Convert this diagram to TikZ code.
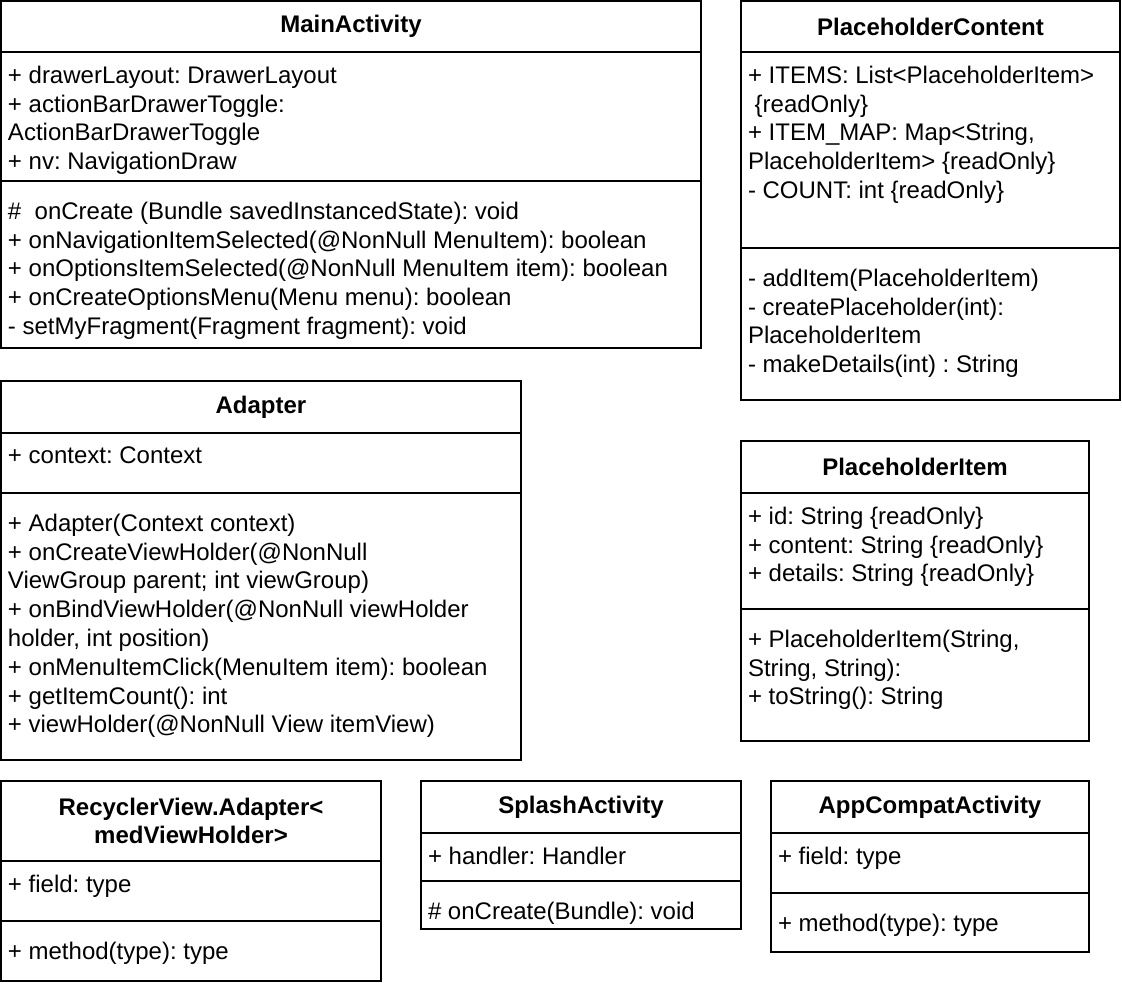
\documentclass[tikz,border=0pt]{standalone}
\usepackage{fontspec}
\setmainfont{Liberation Sans}
\usepackage{tikz}
\frenchspacing

\begin{document}
\begin{tikzpicture}[x=1pt,y=-1pt,line width=2pt]
        %
        % `classname' is the top box that holds the name of a class.
        % `compart' is an empty box for the fields or the methods.
        % `fields' and `methods' set the text inside a compartment.
        \tikzstyle{classname} = [draw,anchor=north west,inner sep=0pt,outer sep=0pt,align=center,font=\fontsize{24}{28.8}\selectfont\bfseries]
        \tikzstyle{compart} = [draw,anchor=north west,inner sep=0pt,outer sep=0pt]
        \tikzstyle{fields} = [anchor=north west,align=left,inner xsep=6pt,inner ysep=13pt,font=\fontsize{24}{28.8}\selectfont]
        \tikzstyle{methods} = [fields,inner ysep=20pt]
        %
        \useasboundingbox (0,0) rectangle (1122,992);
        %
        % MainActivity
        \node[classname,minimum width=700pt,minimum height=51pt] (main) at (1,1) {MainActivity};
        \node[compart,minimum width=700pt,minimum height=129pt] (main-f) at (main.south west) {};
        \node[compart,minimum width=700pt,minimum height=167pt] (main-m) at (main-f.south west) {};
        \node[fields] (main-ft) at (main-f.north west) {+ drawerLayout: DrawerLayout\\
                + actionBarDrawerToggle:\\ActionBarDrawerToggle\\+ nv: NavigationDraw};
        \node[methods] (main-mt) at (main-m.north west) {\#\ \ onCreate (Bundle savedInstancedState): void\\
                + onNavigationItemSelected(@NonNull MenuItem): boolean\\
                + onOptionsItemSelected(@NonNull MenuItem item): boolean\\
                + onCreateOptionsMenu(Menu menu): boolean\\
                - setMyFragment(Fragment fragment): void};
        %
        % PlaceholderContent
        \node[classname,minimum width=379pt,minimum height=51pt] (content) at (741,1) {PlaceholderContent};
        \node[compart,minimum width=379pt,minimum height=196pt] (content-f) at (content.south west) {};
        \node[compart,minimum width=379pt,minimum height=152pt] (content-m) at (content-f.south west) {};
        \node[fields] (content-ft) at (content-f.north west) {+ ITEMS: List<PlaceholderItem>\\
                \ \{readOnly\}\\+ ITEM\_MAP: Map<String,\\PlaceholderItem> \{readOnly\}\\
                - COUNT: int \{readOnly\}};
        \node[methods] (content-mt) at (content-m.north west) {- addItem(PlaceholderItem)\\
                - createPlaceholder(int):\\PlaceholderItem\\- makeDetails(int) : String};
        %
        % Adapter
        \node[classname,minimum width=520pt,minimum height=52pt] (adapter) at (1,381) {Adapter};
        \node[compart,minimum width=520pt,minimum height=60pt] (adapter-f) at (adapter.south west) {};
        \node[compart,minimum width=520pt,minimum height=267pt] (adapter-m) at (adapter-f.south west) {};
        \node[fields] (adapter-ft) at (adapter-f.north west) {+ context: Context};
        \node[methods] (adapter-mt) at (adapter-m.north west) {+ Adapter(Context context)\\
                + onCreateViewHolder(@NonNull\\ViewGroup parent; int viewGroup)\\
                + onBindViewHolder(@NonNull viewHolder\\holder, int position)\\
                + onMenuItemClick(MenuItem item): boolean\\
                + getItemCount(): int\\
                + viewHolder(@NonNull View itemView)};
        %
        % PlaceholderItem
        \node[classname,minimum width=348pt,minimum height=52pt] (item) at (741,441) {PlaceholderItem};
        \node[compart,minimum width=348pt,minimum height=116pt] (item-f) at (item.south west) {};
        \node[compart,minimum width=348pt,minimum height=132pt] (item-m) at (item-f.south west) {};
        \node[fields] (item-ft) at (item-f.north west) {+ id: String \{readOnly\}\\
                + content: String \{readOnly\}\\+ details: String \{readOnly\}};
        \node[methods] (item-mt) at (item-m.north west) {+ PlaceholderItem(String,\\
                String, String):\\+ toString(): String};
        %
        % RecyclerView.Adapter
        \node[classname,minimum width=380pt,minimum height=80pt] (recycler) at (1,781) {RecyclerView.Adapter<\\medViewHolder>};
        \node[compart,minimum width=380pt,minimum height=60pt] (recycler-f) at (recycler.south west) {};
        \node[compart,minimum width=380pt,minimum height=60pt] (recycler-m) at (recycler-f.south west) {};
        \node[fields] (recycler-ft) at (recycler-f.north west) {+ field: type};
        \node[methods] (recycler-mt) at (recycler-m.north west) {+ method(type): type};
        %
        % SplashActivity
        \node[classname,minimum width=320pt,minimum height=52pt] (splash) at (421,781) {SplashActivity};
        \node[compart,minimum width=320pt,minimum height=48pt] (splash-f) at (splash.south west) {};
        \node[compart,minimum width=320pt,minimum height=48pt] (splash-m) at (splash-f.south west) {};
        \node[fields] (splash-ft) at (splash-f.north west) {+ handler: Handler};
        \node[methods] (splash-mt) at (splash-m.north west) {\# onCreate(Bundle): void};
        %
        % AppCompatActivity
        \node[classname,minimum width=318pt,minimum height=52pt] (compat) at (771,781) {AppCompatActivity};
        \node[compart,minimum width=318pt,minimum height=60pt] (compat-f) at (compat.south west) {};
        \node[compart,minimum width=318pt,minimum height=59pt] (compat-m) at (compat-f.south west) {};
        \node[fields] (compat-ft) at (compat-f.north west) {+ field: type};
        \node[methods] (compat-mt) at (compat-m.north west) {+ method(type): type};
        %
\end{tikzpicture}
\end{document}
